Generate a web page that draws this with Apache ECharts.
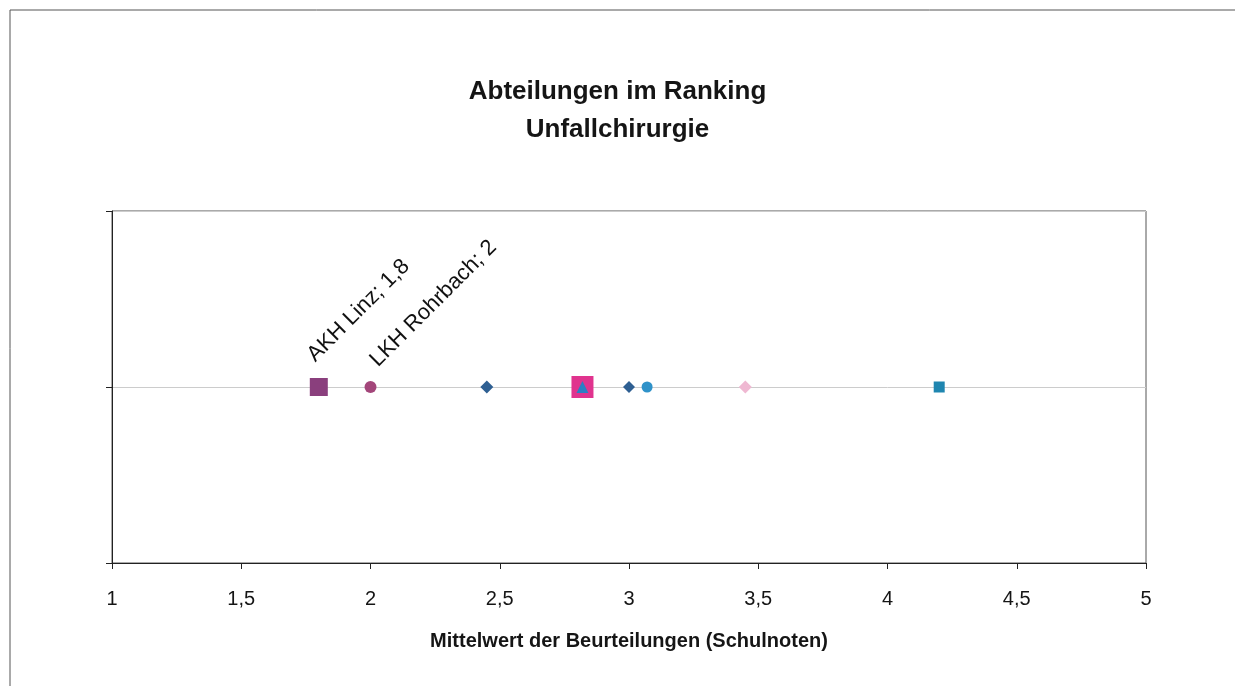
<!DOCTYPE html>
<html>
<head>
<meta charset="utf-8">
<script src="https://cdn.jsdelivr.net/npm/echarts@6/dist/echarts.min.js"></script>
<style>
    html, body { margin: 0; padding: 0; background: #fff; }
    #main { width: 1235px; height: 686px; }
</style>
</head>
<body>
<div id="main"></div>
<script>
    // Daten (Mittelwert der Beurteilungen je Abteilung)
    var pointNames = ['AKH Linz', 'LKH Rohrbach', '', '', '', '', '', '', ''];
    var pointValues = [1.8, 2, 2.45, 2.82, 2.82, 3.0, 3.07, 3.45, 4.2];
    var showLabel = [true, true, false, false, false, false, false, false, false];
    var xTicks = ['1', '1,5', '2', '2,5', '3', '3,5', '4', '4,5', '5'];

    // Darstellung je Punkt
    var symbols = ['rect', 'circle', 'diamond', 'rect', 'triangle', 'diamond', 'circle', 'diamond', 'rect'];
    var sizes = [18, 12, 13, 22, 12, 12, 11, 13, 11];
    var colors = ['#8a3f7d', '#a3467a', '#2e5f92', '#e0338e', '#2a7fc4', '#2e5f92', '#2f92c9', '#efb8d2', '#1f86b0'];
    var labelPos = [[9, -12], [17, -10]];

    var font = 'Liberation Sans, Arial, sans-serif';
    var myChart = echarts.init(document.getElementById('main'));

    var series = pointValues.map(function (v, i) {
        return {
            type: 'scatter',
            name: pointNames[i],
            symbol: symbols[i],
            symbolSize: sizes[i],
            z: i === 4 ? 5 : 3,
            itemStyle: { color: colors[i], opacity: 1 },
            label: {
                show: showLabel[i],
                position: labelPos[i] || 'top',
                rotate: 45,
                align: 'left',
                verticalAlign: 'bottom',
                fontFamily: font,
                fontSize: 22,
                color: '#111',
                formatter: function (p) {
                    return p.name + '; ' + String(p.value[0]).replace('.', ',');
                }
            },
            data: [{ name: pointNames[i], value: [v, 1] }]
        };
    });

    var option = {
        backgroundColor: '#fff',
        animation: false,
        title: {
            text: 'Abteilungen im Ranking\nUnfallchirurgie',
            left: 'center',
            top: 68,
            textStyle: {
                fontFamily: font,
                fontSize: 26,
                fontWeight: 'bold',
                color: '#151515',
                lineHeight: 38
            }
        },
        graphic: [{
            type: 'rect',
            shape: { x: 10, y: 10, width: 1300, height: 800 },
            style: { fill: null, stroke: '#555', lineWidth: 1 },
            silent: true
        }],
        grid: {
            left: 112, right: 89, top: 211, bottom: 123,
            show: true, borderColor: '#555', borderWidth: 1
        },
        xAxis: {
            type: 'value',
            min: 1,
            max: 5,
            interval: 0.5,
            name: 'Mittelwert der Beurteilungen (Schulnoten)',
            nameLocation: 'middle',
            nameGap: 68,
            nameTextStyle: { fontFamily: font, fontSize: 20, fontWeight: 'bold', color: '#151515' },
            axisLine: { lineStyle: { color: '#222', width: 1 } },
            axisTick: { show: true, length: 6, lineStyle: { color: '#222' } },
            splitLine: { show: false },
            axisLabel: {
                fontFamily: font,
                fontSize: 20,
                color: '#151515',
                margin: 26,
                formatter: function (v) { return xTicks[Math.round((v - 1) * 2)]; }
            }
        },
        yAxis: {
            type: 'value',
            min: 0,
            max: 2,
            interval: 1,
            axisLine: { show: true, lineStyle: { color: '#222', width: 1 } },
            axisTick: { show: true, length: 6, lineStyle: { color: '#222' } },
            axisLabel: { show: false },
            splitLine: { show: true, lineStyle: { color: '#ccc', width: 1 } }
        },
        series: series
    };

    myChart.setOption(option);
</script>
</body>
</html>
